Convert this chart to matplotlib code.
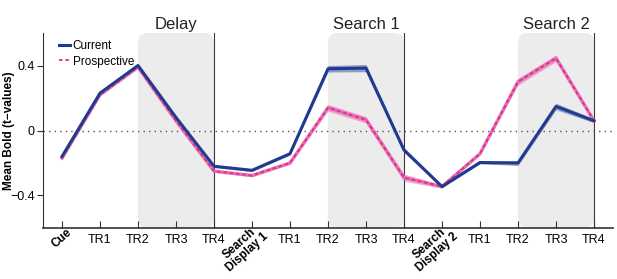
import matplotlib
matplotlib.use('Agg')
import matplotlib.pyplot as plt
import matplotlib.transforms as mtransforms
from matplotlib.patches import FancyBboxPatch
import numpy as np

plt.rcParams['font.family'] = ['Liberation Sans', 'DejaVu Sans']

# Time points along the trial
labels = ['Cue', 'TR1', 'TR2', 'TR3', 'TR4', 'Search\nDisplay 1',
          'TR1', 'TR2', 'TR3', 'TR4', 'Search\nDisplay 2',
          'TR1', 'TR2', 'TR3', 'TR4']
rotated = ['Cue', 'Search\nDisplay 1', 'Search\nDisplay 2']

# Mean bold (t-values)
current = [-0.16, 0.23, 0.40, 0.08, -0.22, -0.245, -0.143,
           0.38, 0.384, -0.12, -0.345, -0.197, -0.20, 0.148, 0.06]
current_err = [0.008, 0.008, 0.008, 0.008, 0.008, 0.008, 0.008,
               0.02, 0.022, 0.015, 0.008, 0.008, 0.015, 0.02, 0.012]
prospective = [-0.17, 0.22, 0.39, 0.06, -0.25, -0.277, -0.20,
               0.14, 0.066, -0.29, -0.345, -0.143, 0.30, 0.445, 0.06]
prospective_err = [0.008, 0.008, 0.008, 0.008, 0.008, 0.008, 0.008,
                   0.02, 0.02, 0.022, 0.01, 0.008, 0.02, 0.02, 0.01]

# shaded epochs: (name, start index, end index)
epochs = [('Delay', 2, 4), ('Search 1', 7, 9), ('Search 2', 12, 14)]

navy = '#1f3a8f'
pink = '#e2479c'

x = np.arange(len(labels))
current = np.array(current)
prospective = np.array(prospective)
current_err = np.array(current_err)
prospective_err = np.array(prospective_err)

fig = plt.figure(figsize=(6.17, 2.79), dpi=100)
ax = fig.add_axes([0.0697, 0.1828, 0.9238, 0.6989])
ax.set_xlim(-0.5, 14.5)
ax.set_ylim(-0.6, 0.6)

aspect = (0.9238 * 617 / 15) / (0.6989 * 279 / 1.2)
trans = mtransforms.blended_transform_factory(ax.transData, ax.transAxes)
for name, a, b in epochs:
    box = FancyBboxPatch((a, -0.6), b - a, 1.2,
                         boxstyle='round,pad=0,rounding_size=0.25',
                         mutation_aspect=aspect,
                         fc='#ececec', ec='none', zorder=0)
    ax.add_patch(box)
    ax.axvline(b, color='#3a3a3a', lw=0.8, zorder=1)
    ax.text((a + b) / 2, 1.02, name, transform=trans, ha='center',
            va='baseline', fontsize=12, color='#222222')

ax.axhline(0, color='#555555', lw=1, ls=(0, (1, 3)), zorder=1)

ax.fill_between(x, current - current_err, current + current_err,
                color=navy, alpha=0.45, lw=0, zorder=2)
ax.fill_between(x, prospective - prospective_err, prospective + prospective_err,
                color=pink, alpha=0.45, lw=0, zorder=2)
ax.plot(x, prospective, color='#ea6fb2', lw=2.4, zorder=3)
ax.plot(x, prospective, color='#d9328d', lw=1.3, ls=(0, (2, 1.5)), zorder=4,
        label='Prospective')
ax.plot(x, current, color=navy, lw=2.2, zorder=5, label='Current')

handles, leg_labels = ax.get_legend_handles_labels()
leg = ax.legend(handles[::-1], leg_labels[::-1], loc='upper left',
                bbox_to_anchor=(0.015, 1.0), frameon=False, fontsize=8.5,
                handlelength=1.0, handletextpad=0.2, labelspacing=0.3,
                borderaxespad=0.2)

ax.spines['top'].set_visible(False)
ax.spines['right'].set_visible(False)
ax.spines['left'].set_color('#333333')
ax.spines['bottom'].set_color('#333333')
ax.spines['bottom'].set_linewidth(1.2)

ax.set_yticks([-0.4, 0, 0.4])
ax.set_yticklabels(['\u22120.4', '0', '0.4'], fontsize=9)
ax.tick_params(axis='y', direction='out', length=4, color='#333333', pad=2)
ax.tick_params(axis='x', direction='in', length=5, color='#333333', pad=4)
ax.set_ylabel('Mean Bold (t\u2212values)', fontsize=8.5, fontweight='bold')
ax.yaxis.set_label_coords(-0.05, 0.5)

ax.set_xticks(x)
ax.set_xticklabels(labels, fontsize=9)
for t in ax.get_xticklabels():
    if t.get_text() in rotated:
        t.set_rotation(42)
        t.set_ha('right')
        t.set_va('top')
        t.set_rotation_mode('anchor')
        t.set_fontweight('bold')
        t.set_fontsize(8.5)
        t.set_multialignment('center')
        t.set_linespacing(0.95)
        if t.get_text() == 'Cue':
            dx, dy = 4, 7
        else:
            dx, dy = 3, 12
        t.set_transform(t.get_transform() + mtransforms.ScaledTranslation(
            dx / 100, dy / 100, fig.dpi_scale_trans))

fig.savefig('out.png', dpi=100)
